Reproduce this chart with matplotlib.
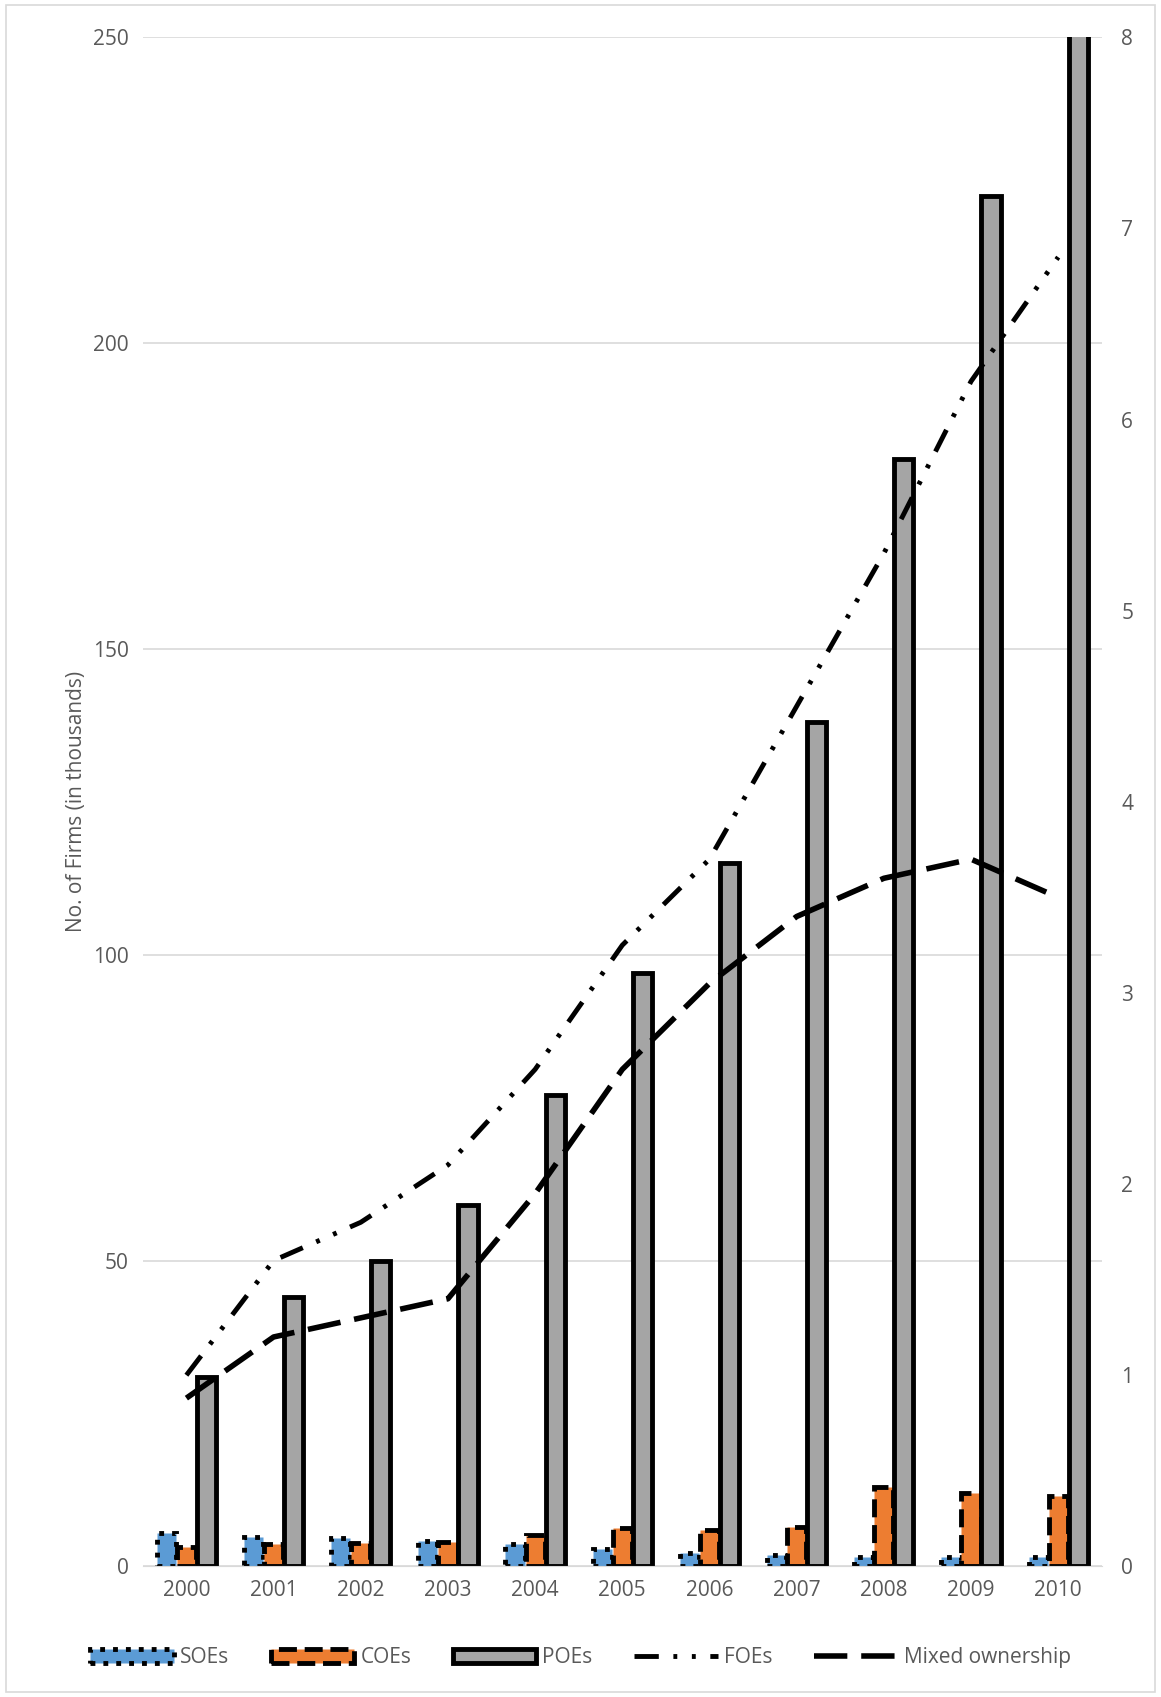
import numpy as np
import matplotlib.pyplot as plt
from matplotlib.lines import Line2D
from matplotlib.patches import Patch

years = ['2000', '2001', '2002', '2003', '2004', '2005', '2006', '2007', '2008', '2009', '2010']
soes = [5.5, 4.8, 4.6, 4.1, 3.6, 2.8, 2.2, 1.9, 1.6, 1.6, 1.5]
coes = [3.2, 3.6, 3.8, 4.0, 5.2, 6.2, 6.0, 6.5, 13.0, 12.0, 11.5]
poes = [31, 44, 50, 59, 77, 97, 115, 138, 181, 224, 260]
foes = [1.0, 1.6, 1.8, 2.1, 2.6, 3.25, 3.7, 4.5, 5.3, 6.2, 6.85]
mixed = [0.88, 1.2, 1.3, 1.4, 1.95, 2.6, 3.05, 3.4, 3.6, 3.7, 3.5]

plt.rcParams['font.family'] = ['Open Sans', 'DejaVu Sans']
fig = plt.figure(figsize=(11.61, 16.97), dpi=100)
ax = fig.add_axes([0.123, 0.077, 0.826, 0.901])
x = np.arange(len(years))
w = 0.22
gap = 0.23
ax.bar(x - gap, soes, w, color='#5b9bd5', edgecolor='black', linewidth=3.5, linestyle=':')
ax.bar(x, coes, w, color='#ed7d31', edgecolor='black', linewidth=3.5, linestyle='--')
ax.bar(x + gap, poes, w, color='#a5a5a5', edgecolor='black', linewidth=3.5)
ax.set_ylim(0, 250)
ax.set_xlim(-0.5, len(years) - 0.5)
ax.set_yticks(range(0, 251, 50))
ax.set_xticks(x)
ax.set_xticklabels(years)
ax.set_ylabel('No. of Firms (in thousands)', fontsize=15, color='#595959')
ax.grid(axis='y', color='#d9d9d9', linewidth=1.2)
ax.set_axisbelow(True)
for s in ['top', 'right', 'left']:
    ax.spines[s].set_visible(False)
ax.spines['bottom'].set_color('#d9d9d9')
ax.tick_params(length=0, labelsize=15, labelcolor='#595959', pad=10)

foe_dash = (5, 3, 0.8, 3, 0.8, 3)
mix_dash = (6, 2.5)
ax2 = ax.twinx()
ax2.plot(x, foes, color='black', linewidth=3.5, dashes=foe_dash)
ax2.plot(x, mixed, color='black', linewidth=4, dashes=mix_dash)
ax2.set_ylim(0, 8)
ax2.set_yticks(range(0, 9))
for s in ax2.spines.values():
    s.set_visible(False)
ax2.tick_params(length=0, labelsize=15, labelcolor='#595959', pad=14)

handles = [
    Patch(facecolor='#5b9bd5', edgecolor='black', linewidth=3.5, linestyle=':', label='SOEs'),
    Patch(facecolor='#ed7d31', edgecolor='black', linewidth=3.5, linestyle='--', label='COEs'),
    Patch(facecolor='#a5a5a5', edgecolor='black', linewidth=3.5, label='POEs'),
    Line2D([], [], color='black', linewidth=3.5, dashes=foe_dash, label='FOEs'),
    Line2D([], [], color='black', linewidth=4, dashes=mix_dash, label='Mixed ownership'),
]
fig.legend(handles=handles, loc='center', bbox_to_anchor=(0.5, 0.023), ncol=5,
           frameon=False, fontsize=15, labelcolor='#595959', handlelength=4,
           handletextpad=0.3, columnspacing=2.0)
fig.patches.append(plt.Rectangle((0.005, 0.003), 0.99, 0.994, transform=fig.transFigure,
                                 fill=False, edgecolor='#d9d9d9', linewidth=1.2))
fig.savefig('out.png')
